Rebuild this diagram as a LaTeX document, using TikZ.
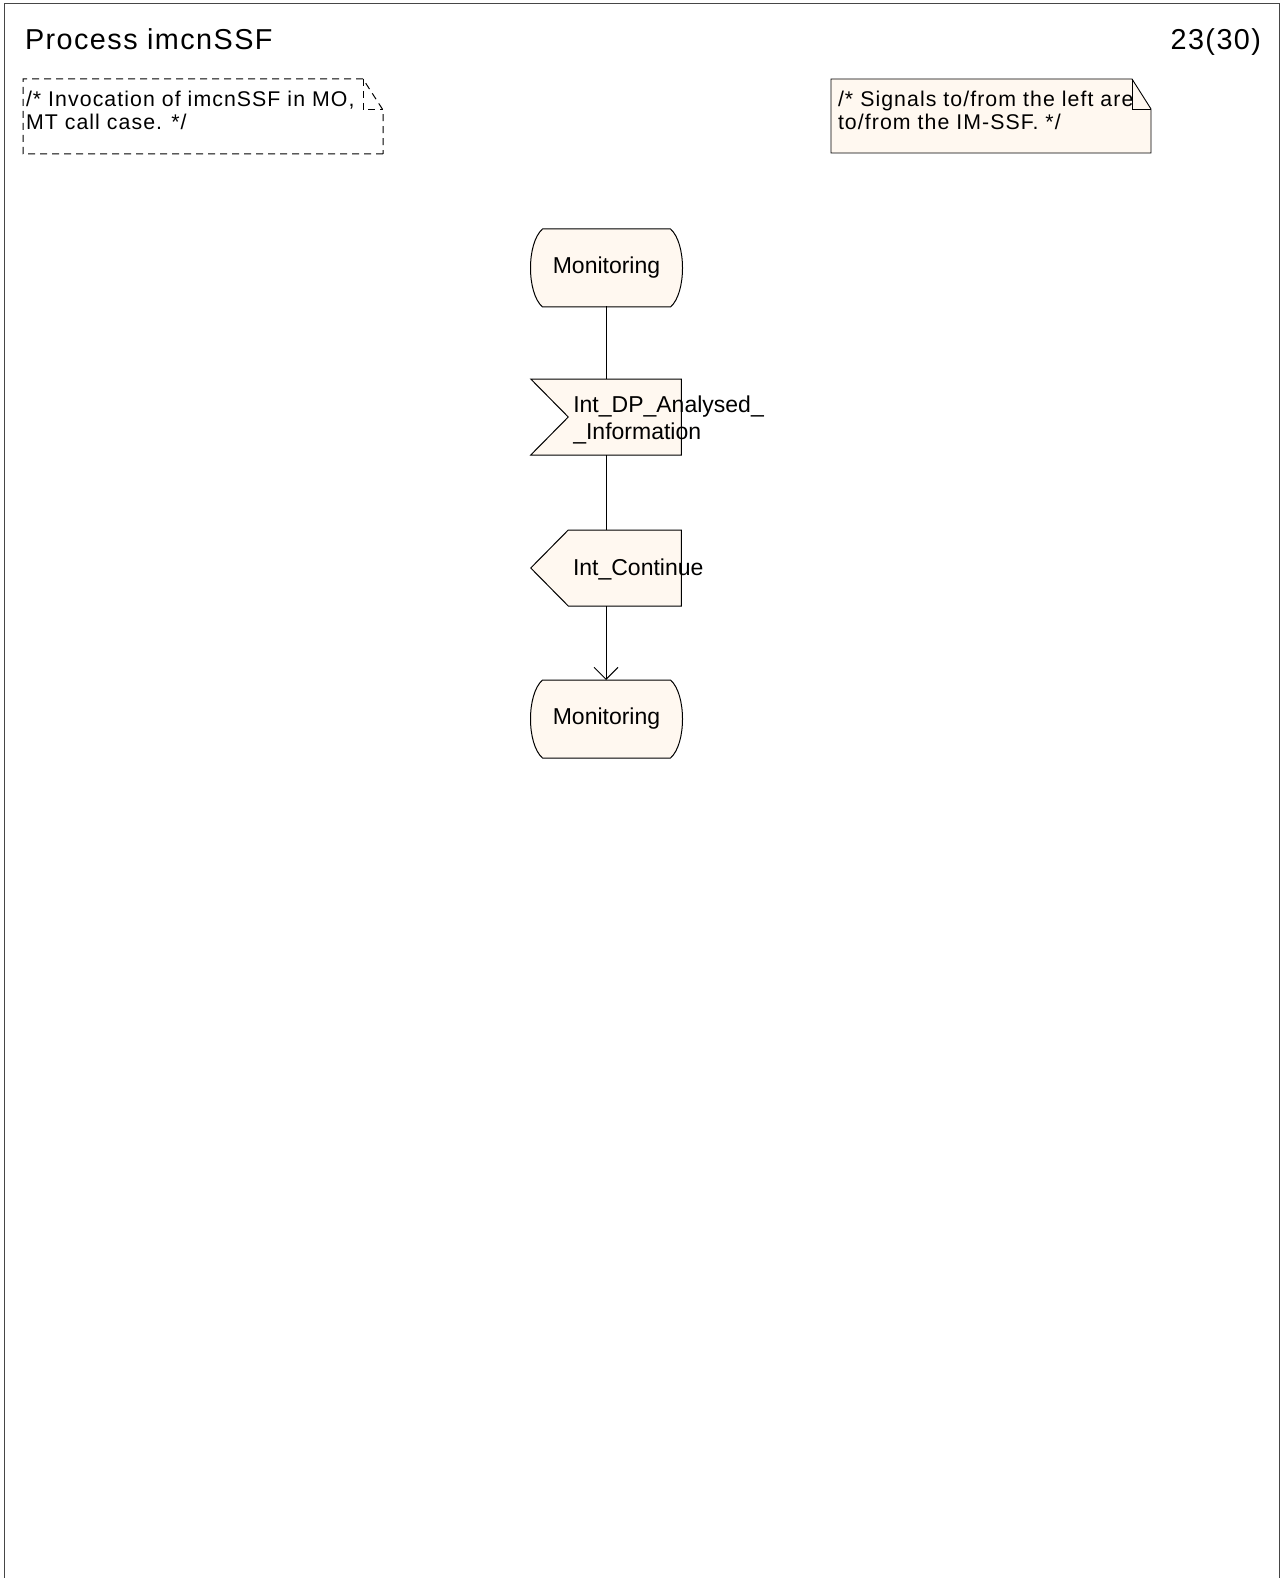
\documentclass[tikz,border=0pt]{standalone}
\usepackage{fontspec}
\setmainfont{Liberation Sans}
\newfontfamily\spacedfont[LetterSpace=5]{Liberation Sans}
\usetikzlibrary{arrows.meta,backgrounds,calc}
\definecolor{cream}{RGB}{255,248,240}
\definecolor{framegray}{RGB}{70,70,70}
\begin{document}
\begin{tikzpicture}[x=1pt,y=-1pt,
  every node/.style={inner sep=0pt,outer sep=0pt},
  statebox/.style={minimum width=152pt,minimum height=78pt},
  sigbox/.style={minimum width=150.5pt,minimum height=76pt},
  symtext/.style={font=\fontsize{23}{26.5}\selectfont},
  notetext/.style={font=\spacedfont\fontsize{21.3}{22.5}\selectfont},
  titletext/.style={font=\spacedfont\fontsize{28.8}{30}\selectfont},
  shapeline/.style={draw=black,fill=cream,line width=1pt},
  flow/.style={draw=black,line width=1pt},
  notedash/.style={draw=black,line width=1pt,dash pattern=on 7pt off 5pt}]
\useasboundingbox (0,0) rectangle (1283,1578);
% frame
\draw[framegray,line width=1pt] (4,1580) -- (4,4) -- (1279,4) -- (1279,1580);
% title
\node[titletext,anchor=base west] (title) at (25,49.3) {Process imcnSSF};
\node[titletext,anchor=base east] (page) at (1261,49.3) {23(30)};
% notes
\node[minimum width=360pt,minimum height=75pt,anchor=north west] (n1) at (23,79) {};
\draw[notedash] (n1.south east) -- (n1.south west) -- (n1.north west) -- ($(n1.north east)+(-20,0)$) -- ($(n1.north east)+(0,31)$) -- cycle;
\draw[notedash] ($(n1.north east)+(-20,0)$) -- ($(n1.north east)+(-20,31)$) -- ($(n1.north east)+(0,31)$);
\node[notetext,anchor=base west] (n1a) at (26,107) {/* Invocation of imcnSSF in MO,};
\node[notetext,anchor=base west] (n1b) at (26,129.5) {MT call case. */};

\node[minimum width=320pt,minimum height=74pt,anchor=north west] (n2) at (831,79) {};
\draw[shapeline,line width=0.9pt] (n2.south east) -- (n2.south west) -- (n2.north west) -- ($(n2.north east)+(-19,0)$) -- ($(n2.north east)+(0,30)$) -- cycle;
\draw[line width=0.9pt] ($(n2.north east)+(-19,0)$) -- ($(n2.north east)+(-19,30)$) -- ($(n2.north east)+(0,30)$);
\node[notetext,anchor=base west] (n2a) at (838,107) {/* Signals to/from the left are};
\node[notetext,anchor=base west] (n2b) at (838,129.5) {to/from the IM-SSF. */};

% symbols
\node[statebox] (s1) at (606.5,268) {};
\node[sigbox] (i1) at (606,417) {};
\node[sigbox] (o1) at (606,568) {};
\node[statebox] (s2) at (606.5,719) {};

\foreach \s in {s1,s2}{
  \draw[shapeline] ($(\s.north west)+(12,0)$) -- ($(\s.north east)+(-12,0)$)
    .. controls ($(\s.north east)+(4,14)$) and ($(\s.south east)+(4,-14)$) .. ($(\s.south east)+(-12,0)$)
    -- ($(\s.south west)+(12,0)$)
    .. controls ($(\s.south west)+(-4,-14)$) and ($(\s.north west)+(-4,14)$) .. cycle;
}
\draw[shapeline] (i1.north west) -- (i1.north east) -- (i1.south east) -- (i1.south west) -- ($(i1.west)+(37.5,0)$) -- cycle;
\draw[shapeline] ($(o1.north west)+(37.5,0)$) -- (o1.north east) -- (o1.south east) -- ($(o1.south west)+(37.5,0)$) -- (o1.west) -- cycle;

\node[symtext,anchor=base] (s1t) at (606.5,273.5) {Monitoring};
\node[symtext,anchor=base west] (i1a) at (573.3,412.3) {Int\_DP\_Analysed\_};
\node[symtext,anchor=base west] (i1b) at (573.3,439) {\_Information};
\node[symtext,anchor=base west] (o1t) at (573,575) {Int\_Continue};
\node[symtext,anchor=base] (s2t) at (606.5,724.5) {Monitoring};

% connectors
\draw[flow] (s1.south) -- (s1.south -| i1.north) -- (i1.north);
\draw[flow] (i1.south) -- (o1.north);
\draw[flow,-{Straight Barb[length=12pt,width=24pt]}] (o1.south) -- (o1.south |- s2.north);
\end{tikzpicture}
\end{document}
